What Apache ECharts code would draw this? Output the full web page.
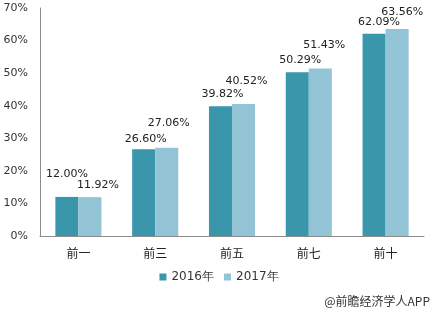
<!DOCTYPE html>
<html>
<head>
<meta charset="utf-8">
<script src="https://cdn.jsdelivr.net/npm/echarts@6/dist/echarts.min.js"></script>
<style>
html,body{margin:0;padding:0;background:#fff;}
#chart{width:438px;height:311px;}
</style>
</head>
<body>
<div id="chart"></div>
<script>
var categories = ['前一', '前三', '前五', '前七', '前十'];
var seriesNames = ['2016年', '2017年'];
var values2016 = [12.00, 26.60, 39.82, 50.29, 62.09];
var values2017 = [11.92, 27.06, 40.52, 51.43, 63.56];
var yTicks = [0, 10, 20, 30, 40, 50, 60, 70];

// label placement tweaks (style only)
var offs2016 = [[0,-12],[2,0],[2,-2],[3,-2],[5,-1]];
var offs2017 = [[8,-2],[2,-14],[3,-12],[4,-13],[5,-6]];

var font = 'DejaVu Sans';
function build(vals, offs) {
  return vals.map(function (v, i) {
    return { value: v, label: { offset: offs[i] } };
  });
}

var chart = echarts.init(document.getElementById('chart'));
chart.setOption({
  animation: false,
  grid: { left: 40, right: 14, top: 8, bottom: 75 },
  legend: {
    data: seriesNames,
    bottom: 23,
    left: 'center',
    itemWidth: 7, itemHeight: 7, itemGap: 10,
    icon: 'rect',
    textStyle: { fontFamily: font, fontSize: 12, color: '#333' }
  },
  xAxis: {
    type: 'category',
    data: categories,
    axisLine: { lineStyle: { color: '#8c8c8c' } },
    axisTick: { show: false },
    axisLabel: { fontFamily: 'Noto Sans CJK SC', fontSize: 12, color: '#222', margin: 11 }
  },
  yAxis: {
    type: 'value',
    min: yTicks[0], max: yTicks[yTicks.length - 1], interval: 10,
    axisLine: { show: true, lineStyle: { color: '#8c8c8c' } },
    axisTick: { show: false },
    splitLine: { show: false },
    axisLabel: { fontFamily: font, fontSize: 11, color: '#333', margin: 12, formatter: '{value}%' }
  },
  series: [
    {
      name: seriesNames[0], type: 'bar', data: build(values2016, offs2016),
      barGap: '0%', barCategoryGap: '40%',
      itemStyle: { color: '#3a96ab' },
      label: { show: true, position: 'top', distance: 5, fontFamily: font, fontSize: 11, color: '#222',
        formatter: function (p) { return p.value.toFixed(2) + '%'; } }
    },
    {
      name: seriesNames[1], type: 'bar', data: build(values2017, offs2017),
      barGap: '0%', barCategoryGap: '40%',
      itemStyle: { color: '#92c4d6' },
      label: { show: true, position: 'top', distance: 5, fontFamily: font, fontSize: 11, color: '#222',
        formatter: function (p) { return p.value.toFixed(2) + '%'; } }
    }
  ],
  graphic: [
    { type: 'text', right: 8, bottom: 4,
      style: { text: '@前瞻经济学人APP', font: '12px "Noto Sans CJK SC"', fill: '#333' } }
  ]
});
</script>
</body>
</html>
